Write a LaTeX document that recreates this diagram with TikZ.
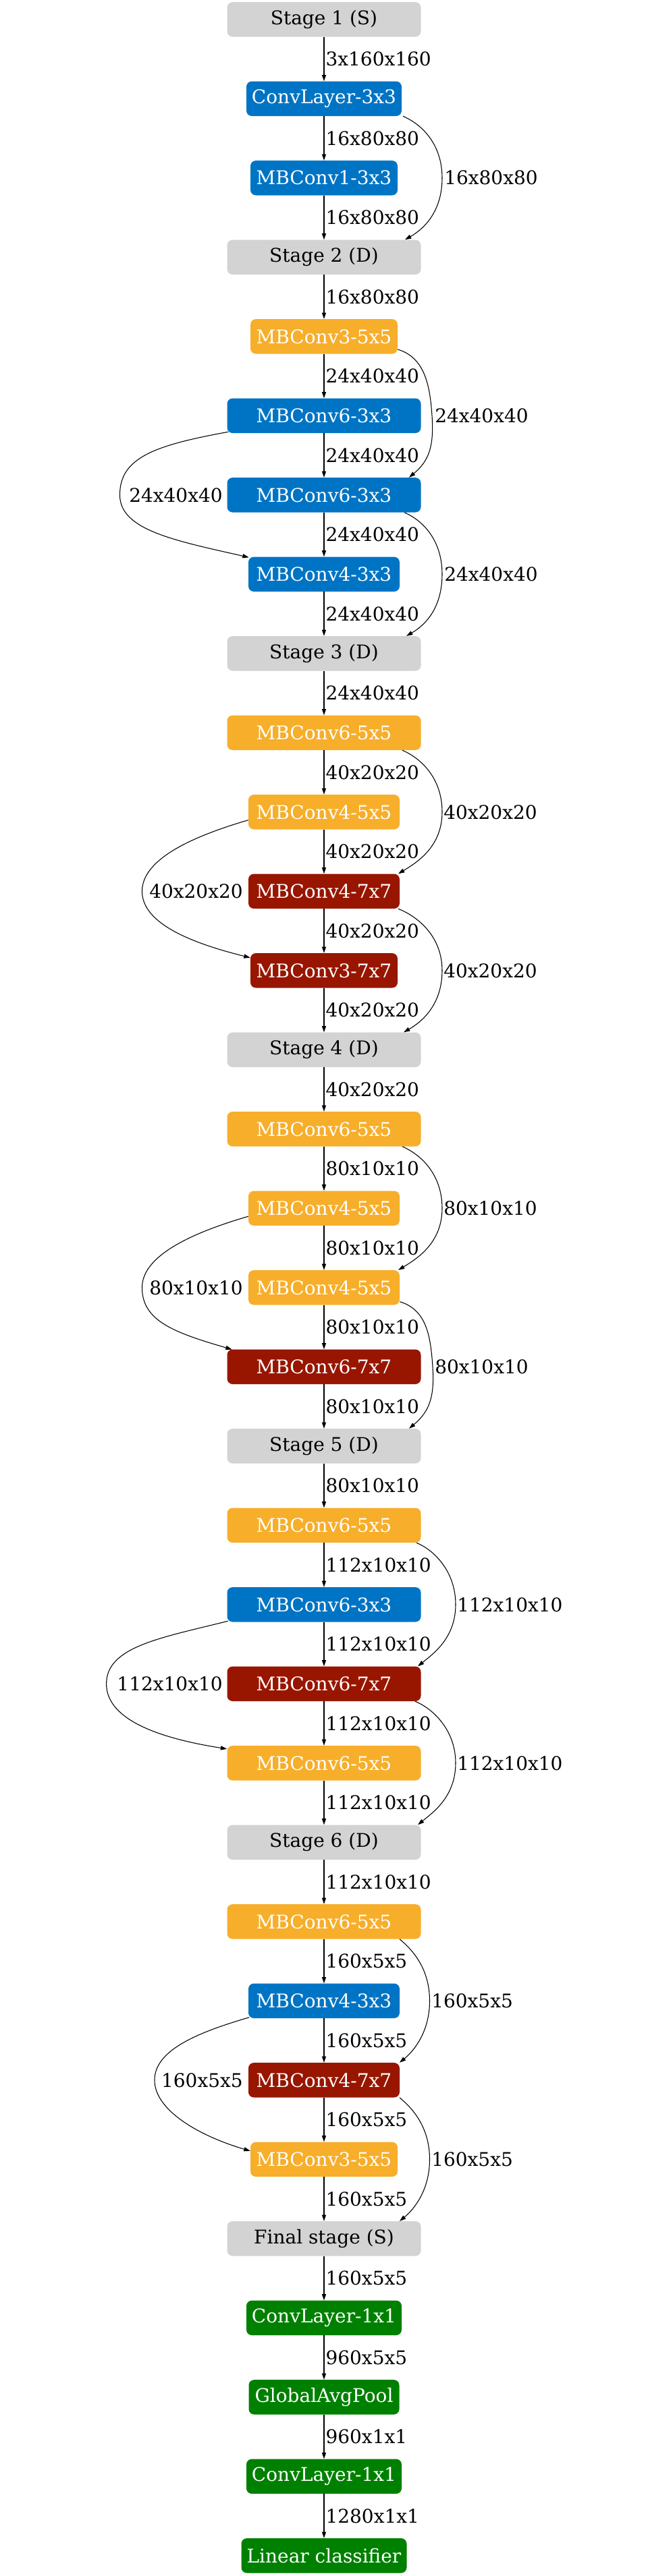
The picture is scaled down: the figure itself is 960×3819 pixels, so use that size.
\documentclass[tikz,border=0pt]{standalone}
\usepackage{fontspec}
\setmainfont{DejaVu Serif}
\usetikzlibrary{arrows.meta,calc}
\definecolor{cgray}{RGB}{211,211,211}
\definecolor{cblue}{RGB}{0,116,196}
\definecolor{corange}{RGB}{247,174,42}
\definecolor{cred}{RGB}{152,22,0}
\definecolor{cgreen}{RGB}{0,128,0}
\begin{document}
\begin{tikzpicture}[x=0.75pt,y=-0.75pt,
  blk/.style={rounded corners=6pt, minimum height=38.55pt, inner sep=0pt, font=\fontsize{21}{25}\selectfont, text=white},
  sgray/.style={fill=cgray, text=black},
  sblue/.style={fill=cblue},
  sorange/.style={fill=corange},
  sred/.style={fill=cred},
  sgreen/.style={fill=cgreen},
  wA/.style={minimum width=215.25pt},
  wB/.style={minimum width=172.5pt},
  wC/.style={minimum width=163.5pt},
  wD/.style={minimum width=168pt},
  wE/.style={minimum width=167.25pt},
  wF/.style={minimum width=183.75pt},
  lab/.style={inner sep=0pt, font=\fontsize{21}{25}\selectfont, text=black},
  arr/.style={-{Triangle[length=7pt,width=4.6pt]}, line width=0.8pt, black}]
\useasboundingbox (0,0) rectangle (960,3819);

\node[blk,sgray,wA] (n1) at (480,28.8) {Stage 1 (S)};
\node[blk,sblue,wB] (n2) at (480,146.3) {ConvLayer-3x3};
\node[blk,sblue,wC] (n3) at (480,263.8) {MBConv1-3x3};
\node[blk,sgray,wA] (n4) at (480,381.3) {Stage 2 (D)};
\node[blk,sorange,wC] (n5) at (480,498.8) {MBConv3-5x5};
\node[blk,sblue,wA] (n6) at (480,616.3) {MBConv6-3x3};
\node[blk,sblue,wA] (n7) at (480,733.8) {MBConv6-3x3};
\node[blk,sblue,wD] (n8) at (480,851.3) {MBConv4-3x3};
\node[blk,sgray,wA] (n9) at (480,968.8) {Stage 3 (D)};
\node[blk,sorange,wA] (n10) at (480,1086.3) {MBConv6-5x5};
\node[blk,sorange,wD] (n11) at (480,1203.8) {MBConv4-5x5};
\node[blk,sred,wD] (n12) at (480,1321.3) {MBConv4-7x7};
\node[blk,sred,wC] (n13) at (480,1438.8) {MBConv3-7x7};
\node[blk,sgray,wA] (n14) at (480,1556.3) {Stage 4 (D)};
\node[blk,sorange,wA] (n15) at (480,1673.8) {MBConv6-5x5};
\node[blk,sorange,wD] (n16) at (480,1791.3) {MBConv4-5x5};
\node[blk,sorange,wD] (n17) at (480,1908.8) {MBConv4-5x5};
\node[blk,sred,wA] (n18) at (480,2026.3) {MBConv6-7x7};
\node[blk,sgray,wA] (n19) at (480,2143.8) {Stage 5 (D)};
\node[blk,sorange,wA] (n20) at (480,2261.3) {MBConv6-5x5};
\node[blk,sblue,wA] (n21) at (480,2378.8) {MBConv6-3x3};
\node[blk,sred,wA] (n22) at (480,2496.3) {MBConv6-7x7};
\node[blk,sorange,wA] (n23) at (480,2613.8) {MBConv6-5x5};
\node[blk,sgray,wA] (n24) at (480,2731.3) {Stage 6 (D)};
\node[blk,sorange,wA] (n25) at (480,2848.8) {MBConv6-5x5};
\node[blk,sblue,wD] (n26) at (480,2966.3) {MBConv4-3x3};
\node[blk,sred,wD] (n27) at (480,3083.8) {MBConv4-7x7};
\node[blk,sorange,wC] (n28) at (480,3201.3) {MBConv3-5x5};
\node[blk,sgray,wA] (n29) at (480,3318.8) {Final stage (S)};
\node[blk,sgreen,wB] (n30) at (480,3436.3) {ConvLayer-1x1};
\node[blk,sgreen,wE] (n31) at (480,3553.8) {GlobalAvgPool};
\node[blk,sgreen,wB] (n32) at (480,3671.3) {ConvLayer-1x1};
\node[blk,sgreen,wF] (n33) at (480,3788.8) {Linear classifier};

% straight edges
\foreach \a/\b/\t in {1/2/3x160x160, 2/3/16x80x80, 3/4/16x80x80, 4/5/16x80x80,
  5/6/24x40x40, 6/7/24x40x40, 7/8/24x40x40, 8/9/24x40x40, 9/10/24x40x40,
  10/11/40x20x20, 11/12/40x20x20, 12/13/40x20x20, 13/14/40x20x20, 14/15/40x20x20,
  15/16/80x10x10, 16/17/80x10x10, 17/18/80x10x10, 18/19/80x10x10, 19/20/80x10x10,
  20/21/112x10x10, 21/22/112x10x10, 22/23/112x10x10, 23/24/112x10x10, 24/25/112x10x10,
  25/26/160x5x5, 26/27/160x5x5, 27/28/160x5x5, 28/29/160x5x5, 29/30/160x5x5,
  30/31/960x5x5, 31/32/960x1x1, 32/33/1280x1x1}
  {\draw[arr] (n\a) -- (n\b) node[lab, midway, anchor=west, xshift=1.5pt] (e\a) {\t};}

% right skip edges
\draw[arr] ($(n2.south)+(117,0)$) .. controls +(28,12) and +(0,-50) .. ($(n3)+(175,0)$) .. controls +(0,50) and +(28,-16) .. ($(n4.north)+(120,0)$);
\node[lab, anchor=west] (r1) at ($(n3)+(178,0)$) {16x80x80};

\draw[arr] ($(n5.east)+(0,19.2)$) .. controls +(40,12) and +(-3,-45) .. ($(n6)+(160,0)$) .. controls +(3,45) and +(30,-25) .. ($(n7.north)+(126,0)$);
\node[lab, anchor=west] (r2) at ($(n6)+(164,0)$) {24x40x40};

\draw[arr] ($(n7.south)+(119,0)$) .. controls +(28,12) and +(0,-50) .. ($(n8)+(175,0)$) .. controls +(0,50) and +(28,-16) .. ($(n9.north)+(122,0)$);
\node[lab, anchor=west] (r3) at ($(n8)+(178,0)$) {24x40x40};

\draw[arr] ($(n10.south)+(116,0)$) .. controls +(28,12) and +(0,-50) .. ($(n11)+(175,0)$) .. controls +(0,50) and +(30,-18) .. ($(n12.north)+(110,0)$);
\node[lab, anchor=west] (r4) at ($(n11)+(177,0)$) {40x20x20};

\draw[arr] ($(n12.south)+(110,0)$) .. controls +(30,12) and +(0,-50) .. ($(n13)+(175,0)$) .. controls +(0,50) and +(28,-16) .. ($(n14.north)+(118,0)$);
\node[lab, anchor=west] (r5) at ($(n13)+(177,0)$) {40x20x20};

\draw[arr] ($(n15.south)+(116,0)$) .. controls +(28,12) and +(0,-50) .. ($(n16)+(175,0)$) .. controls +(0,50) and +(30,-18) .. ($(n17.north)+(110,0)$);
\node[lab, anchor=west] (r6) at ($(n16)+(177,0)$) {80x10x10};

\draw[arr] ($(n17.east)+(0,21)$) .. controls +(40,12) and +(-3,-45) .. ($(n18)+(161,0)$) .. controls +(3,45) and +(30,-25) .. ($(n19.north)+(126,0)$);
\node[lab, anchor=west] (r7) at ($(n18)+(164,0)$) {80x10x10};

\draw[arr] ($(n20.south)+(137,0)$) .. controls +(25,10) and +(0,-50) .. ($(n21)+(195,0)$) .. controls +(0,50) and +(22,-18) .. ($(n22.north)+(139,0)$);
\node[lab, anchor=west] (r8) at ($(n21)+(197,0)$) {112x10x10};

\draw[arr] ($(n22.south)+(135,0)$) .. controls +(25,10) and +(0,-50) .. ($(n23)+(195,0)$) .. controls +(0,50) and +(22,-18) .. ($(n24.north)+(139,0)$);
\node[lab, anchor=west] (r9) at ($(n23)+(197,0)$) {112x10x10};

\draw[arr] ($(n25.south)+(112,0)$) .. controls +(22,18) and +(0,-45) .. ($(n26)+(156.5,0)$) .. controls +(0,45) and +(22,-18) .. ($(n27.north)+(112,0)$);
\node[lab, anchor=west] (r10) at ($(n26)+(159,0)$) {160x5x5};

\draw[arr] ($(n27.south)+(112,0)$) .. controls +(22,18) and +(0,-45) .. ($(n28)+(156.5,0)$) .. controls +(0,45) and +(22,-18) .. ($(n29.north)+(112,0)$);
\node[lab, anchor=west] (r11) at ($(n28)+(159,0)$) {160x5x5};

% left skip edges
\draw[arr] ($(n6.south west)+(2,-2)$) .. controls +(-110,20) and +(0,-55) .. ($(n7)+(-302.5,0)$) .. controls +(0,52) and +(-110,-25) .. ($(n8.north west)+(1,1)$);
\node[lab, anchor=east] (l1) at ($(n7)+(-150,0)$) {24x40x40};

\draw[arr] ($(n11.west)+(0,12)$) .. controls +(-75,22) and +(0,-50) .. ($(n12)+(-269.5,0)$) .. controls +(0,50) and +(-80,-20) .. ($(n13.west)+(0,-19)$);
\node[lab, anchor=east] (l2) at ($(n12)+(-120,0)$) {40x20x20};

\draw[arr] ($(n16.west)+(0,12)$) .. controls +(-75,22) and +(0,-50) .. ($(n17)+(-269.5,0)$) .. controls +(0,50) and +(-85,-25) .. ($(n18.north west)+(7.5,0.3)$);
\node[lab, anchor=east] (l3) at ($(n17)+(-120,0)$) {80x10x10};

\draw[arr] ($(n21.south west)+(1.5,-1.5)$) .. controls +(-100,25) and +(0,-55) .. ($(n22)+(-322.4,0)$) .. controls +(0,55) and +(-95,-15) .. ($(n23.west)+(0,-21)$);
\node[lab, anchor=east] (l4) at ($(n22)+(-150,0)$) {112x10x10};

\draw[arr] ($(n26.south west)+(1.5,-1.5)$) .. controls +(-75,22) and +(0,-45) .. ($(n27)+(-251,0)$) .. controls +(0,45) and +(-75,-22) .. ($(n28.west)+(0,-12.5)$);
\node[lab, anchor=east] (l5) at ($(n27)+(-120,0)$) {160x5x5};
\end{tikzpicture}
\end{document}
